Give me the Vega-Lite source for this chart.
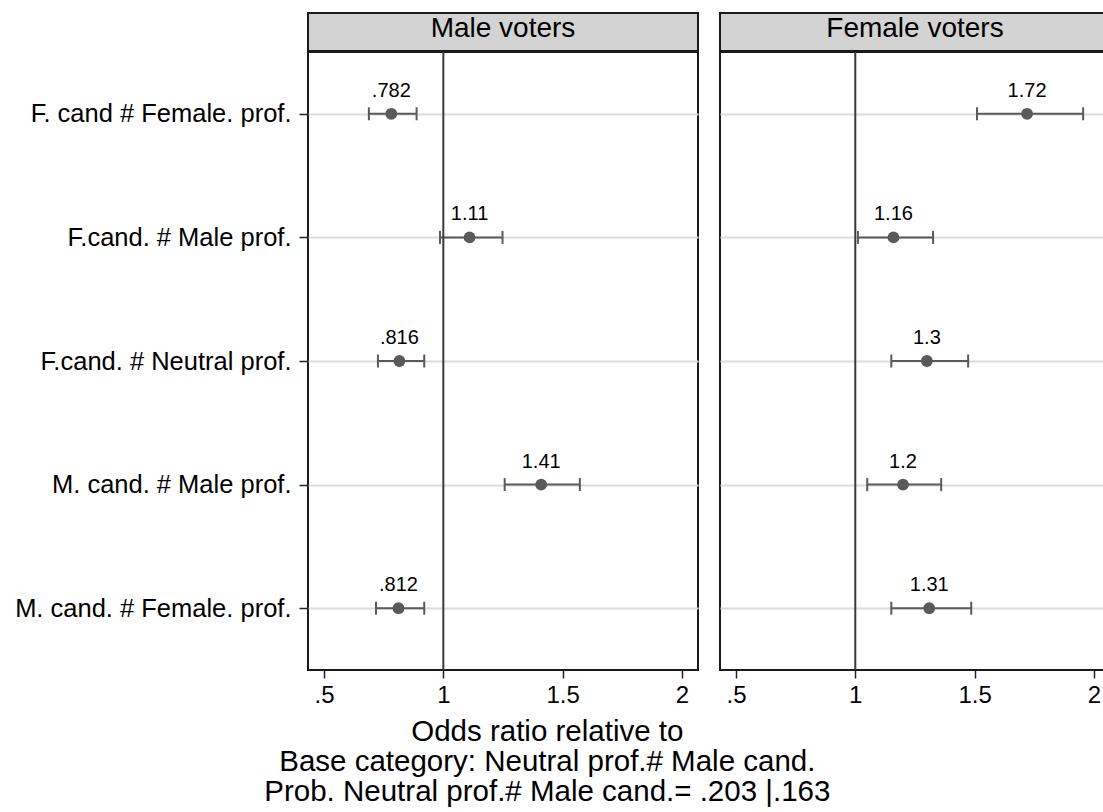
{
  "$schema": "https://vega.github.io/schema/vega-lite/v6.json",
  "padding": {"left": 13, "top": 12, "right": 0, "bottom": 0},
  "background": "white",
  "config": {
    "font": "Liberation Sans",
    "view": {"stroke": "#1a1a1a", "strokeWidth": 2}
  },
  "datasets": {
    "est": [
      {"voter": "Male voters", "cat": "F. cand # Female. prof.", "or": 0.782, "lo": 0.688, "hi": 0.888, "label": ".782"},
      {"voter": "Male voters", "cat": "F.cand. # Male prof.", "or": 1.11, "lo": 0.986, "hi": 1.248, "label": "1.11"},
      {"voter": "Male voters", "cat": "F.cand. # Neutral prof.", "or": 0.816, "lo": 0.726, "hi": 0.92, "label": ".816"},
      {"voter": "Male voters", "cat": "M. cand. # Male prof.", "or": 1.41, "lo": 1.257, "hi": 1.572, "label": "1.41"},
      {"voter": "Male voters", "cat": "M. cand. # Female. prof.", "or": 0.812, "lo": 0.718, "hi": 0.92, "label": ".812"},
      {"voter": "Female voters", "cat": "F. cand # Female. prof.", "or": 1.72, "lo": 1.51, "hi": 1.955, "label": "1.72"},
      {"voter": "Female voters", "cat": "F.cand. # Male prof.", "or": 1.16, "lo": 1.011, "hi": 1.326, "label": "1.16"},
      {"voter": "Female voters", "cat": "F.cand. # Neutral prof.", "or": 1.3, "lo": 1.151, "hi": 1.473, "label": "1.3"},
      {"voter": "Female voters", "cat": "M. cand. # Male prof.", "or": 1.2, "lo": 1.05, "hi": 1.36, "label": "1.2"},
      {"voter": "Female voters", "cat": "M. cand. # Female. prof.", "or": 1.31, "lo": 1.151, "hi": 1.486, "label": "1.31"}
    ],
    "ref": [{"ref": 1}]
  },
  "title": {
    "text": ["Odds ratio relative to", "Base category: Neutral prof.# Male cand.", "Prob. Neutral prof.# Male cand.= .203 |.163"],
    "orient": "bottom",
    "anchor": "middle",
    "fontSize": 29.5,
    "fontWeight": "normal",
    "lineHeight": 30,
    "offset": 10,
    "dx": -12,
    "color": "black"
  },
  "spacing": 20,
  "hconcat": [
    {
      "spacing": -3,
      "vconcat": [
        {
          "width": 390,
          "height": 38,
          "view": {"fill": "#d3d3d3", "stroke": "#1a1a1a", "strokeWidth": 2},
          "data": {"values": [{"voter": "Male voters"}]},
          "mark": {"type": "text", "fontSize": 28, "dy": -3, "color": "black"},
          "encoding": {"text": {"field": "voter", "type": "nominal"}}
        },
        {
          "width": 390,
          "height": 618,
          "data": {"name": "est"},
          "transform": [{"filter": "datum.voter == 'Male voters'"}],
          "layer": [
            {
              "mark": {"type": "rule", "color": "#5a5a5a", "strokeWidth": 2},
              "encoding": {
                "y": {"field": "cat", "type": "nominal", "sort": null, "scale": {"type": "point", "padding": 0.5},
                  "axis": {"title": null, "labelFontSize": 25.5, "labelColor": "black", "labelLimit": 400, "tickSize": 9, "tickWidth": 1.5, "tickColor": "#222", "labelPadding": 8, "domain": false, "grid": true, "gridColor": "#dcdcdc", "gridWidth": 2}},
                "x": {"field": "lo", "type": "quantitative", "scale": {"domain": [0.433, 2.067], "nice": false, "zero": false},
                  "axis": {"title": null, "values": [0.5, 1, 1.5, 2], "labelExpr": "datum.value == 0.5 ? '.5' : format(datum.value, '~g')", "labelFontSize": 24, "labelColor": "black", "tickSize": 8, "tickWidth": 1.5, "tickColor": "#222", "labelPadding": 5, "domain": false, "grid": false}},
                "x2": {"field": "hi"}
              }
            },
            {
              "data": {"name": "ref"},
              "mark": {"type": "rule", "color": "#3a3a3a", "strokeWidth": 2},
              "encoding": {"x": {"field": "ref", "type": "quantitative"}}
            },
            {
              "mark": {"type": "tick", "orient": "vertical", "size": 13, "thickness": 2, "color": "#5a5a5a", "opacity": 1},
              "encoding": {"x": {"field": "lo", "type": "quantitative"}, "y": {"field": "cat", "type": "nominal", "sort": null}}
            },
            {
              "mark": {"type": "tick", "orient": "vertical", "size": 13, "thickness": 2, "color": "#5a5a5a", "opacity": 1},
              "encoding": {"x": {"field": "hi", "type": "quantitative"}, "y": {"field": "cat", "type": "nominal", "sort": null}}
            },
            {
              "mark": {"type": "circle", "size": 140, "opacity": 1, "color": "#5a5a5a"},
              "encoding": {"x": {"field": "or", "type": "quantitative"}, "y": {"field": "cat", "type": "nominal", "sort": null}}
            },
            {
              "mark": {"type": "text", "fontSize": 20, "dy": -23, "baseline": "middle", "color": "black"},
              "encoding": {"x": {"field": "or", "type": "quantitative"}, "y": {"field": "cat", "type": "nominal", "sort": null}, "text": {"field": "label"}}
            }
          ]
        }
      ]
    },
    {
      "spacing": -3,
      "vconcat": [
        {
          "width": 384,
          "height": 38,
          "view": {"fill": "#d3d3d3", "stroke": "#1a1a1a", "strokeWidth": 2},
          "data": {"values": [{"voter": "Female voters"}]},
          "mark": {"type": "text", "fontSize": 28, "dy": -3, "dx": 3, "color": "black"},
          "encoding": {"text": {"field": "voter", "type": "nominal"}}
        },
        {
          "width": 384,
          "height": 618,
          "data": {"name": "est"},
          "transform": [{"filter": "datum.voter == 'Female voters'"}],
          "layer": [
            {
              "mark": {"type": "rule", "color": "#5a5a5a", "strokeWidth": 2},
              "encoding": {
                "y": {"field": "cat", "type": "nominal", "sort": null, "scale": {"type": "point", "padding": 0.5},
                  "axis": {"title": null, "labels": false, "ticks": false, "domain": false, "grid": true, "gridColor": "#dcdcdc", "gridWidth": 2}},
                "x": {"field": "lo", "type": "quantitative", "scale": {"domain": [0.433, 2.0424], "nice": false, "zero": false},
                  "axis": {"title": null, "values": [0.5, 1, 1.5, 2], "labelExpr": "datum.value == 0.5 ? '.5' : format(datum.value, '~g')", "labelFontSize": 24, "labelColor": "black", "tickSize": 8, "tickWidth": 1.5, "tickColor": "#222", "labelPadding": 5, "domain": false, "grid": false}},
                "x2": {"field": "hi"}
              }
            },
            {
              "data": {"name": "ref"},
              "mark": {"type": "rule", "color": "#3a3a3a", "strokeWidth": 2},
              "encoding": {"x": {"field": "ref", "type": "quantitative"}}
            },
            {
              "mark": {"type": "tick", "orient": "vertical", "size": 13, "thickness": 2, "color": "#5a5a5a", "opacity": 1},
              "encoding": {"x": {"field": "lo", "type": "quantitative"}, "y": {"field": "cat", "type": "nominal", "sort": null}}
            },
            {
              "mark": {"type": "tick", "orient": "vertical", "size": 13, "thickness": 2, "color": "#5a5a5a", "opacity": 1},
              "encoding": {"x": {"field": "hi", "type": "quantitative"}, "y": {"field": "cat", "type": "nominal", "sort": null}}
            },
            {
              "mark": {"type": "circle", "size": 140, "opacity": 1, "color": "#5a5a5a"},
              "encoding": {"x": {"field": "or", "type": "quantitative"}, "y": {"field": "cat", "type": "nominal", "sort": null}}
            },
            {
              "mark": {"type": "text", "fontSize": 20, "dy": -23, "baseline": "middle", "color": "black"},
              "encoding": {"x": {"field": "or", "type": "quantitative"}, "y": {"field": "cat", "type": "nominal", "sort": null}, "text": {"field": "label"}}
            }
          ]
        }
      ]
    }
  ]
}
